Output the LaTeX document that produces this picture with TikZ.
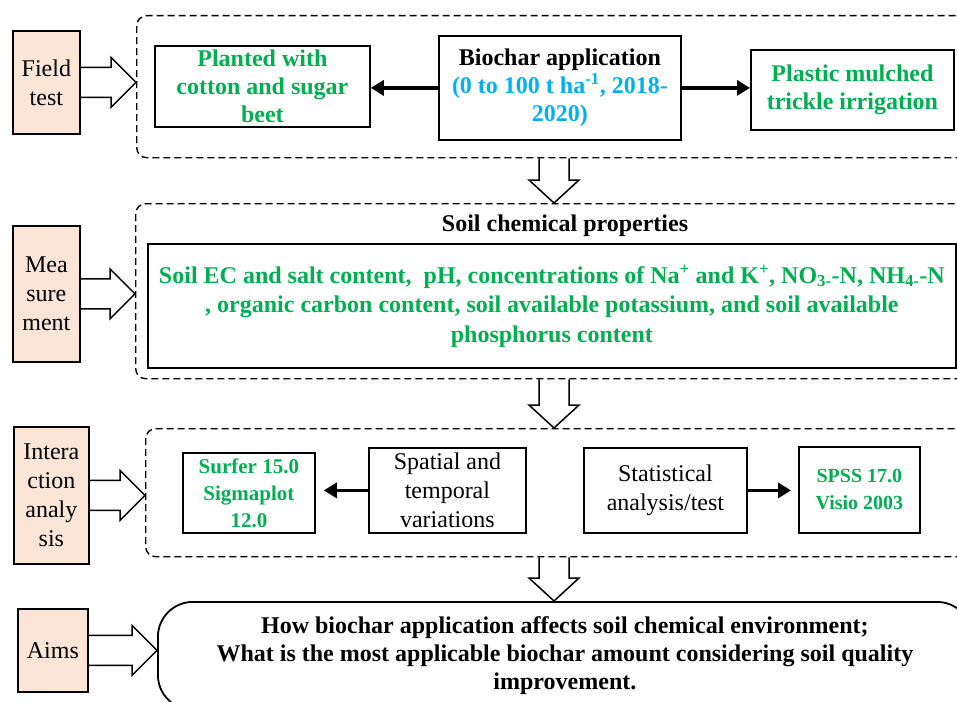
\documentclass[tikz,border=0pt]{standalone}
\usepackage{fontspec}
\setmainfont{Liberation Serif}
\usepackage{xcolor}
\usetikzlibrary{arrows.meta,positioning,calc}
\definecolor{leafgreen}{HTML}{00B050}
\definecolor{skyblue}{HTML}{00B0F0}
\definecolor{peach}{HTML}{FBE5D6}

\begin{document}
\begin{tikzpicture}[x=1pt,y=1pt,
	stage/.style={draw,line width=1.8pt,fill=peach,inner sep=0pt,anchor=north west,align=center,font=\fontsize{24}{29}\selectfont},
	frame/.style={draw,dash pattern=on 7pt off 4pt,line width=1.4pt,rounded corners=10pt,inner sep=0pt,anchor=north west},
	box/.style={draw,line width=1.8pt,inner sep=0pt,anchor=north west,align=center,font=\fontsize{24}{29}\selectfont},
	boldbox/.style={box,text=leafgreen,font=\fontsize{24}{28}\selectfont\bfseries},
	hollow/.style={line width=1.5pt,line join=miter},
	link/.style={line width=3.4pt,-{Triangle[length=13pt,width=15pt]}}]
		\useasboundingbox (0,0) rectangle (957,-701);
		\clip (0,0) rectangle (957,-701);
		% stages
		\node[stage,minimum width=67,minimum height=103] (field) at (12,-30) {Field\\test};
		\node[stage,minimum width=67,minimum height=136] (meas) at (12,-225) {Mea\\sure\\ment};
		\node[stage,minimum width=75,minimum height=137] (inter) at (13,-426) {Intera\\ction\\analy\\sis};
		\node[stage,minimum width=70,minimum height=83] (aims) at (17,-608) {Aims};
		% dashed frames
		\node[frame,minimum width=840,minimum height=142] (frame1) at (136,-15) {};
		\node[frame,minimum width=840,minimum height=175] (frame2) at (135,-203) {};
		\node[frame,minimum width=830,minimum height=128] (frame3) at (145,-428) {};
		% field test
		\node[boldbox,minimum width=215,minimum height=81] (plant) at (154,-45) {Planted with\\cotton and sugar\\beet};
		\node[boldbox,text=skyblue,minimum width=242,minimum height=104] (biochar) at (438,-35)
			{\textcolor{black}{Biochar application}\\(0 to 100 t ha\textsuperscript{-1}, 2018-\\2020)};
		\node[boldbox,minimum width=203,minimum height=80] (plastic) at (750,-49) {Plastic mulched\\trickle irrigation};
		% measurement
		\node[font=\fontsize{24}{29}\selectfont\bfseries] (soilhead) at (565,-226) {Soil chemical properties};
		\node[boldbox,minimum width=808,minimum height=124,font=\fontsize{24}{29.5}\selectfont\bfseries] (props) at (147,-243)
			{Soil EC and salt content,~ pH, concentrations of Na\textsuperscript{+} and K\textsuperscript{+}, NO\textsubscript{3-}-N, NH\textsubscript{4-}-N\\
			, organic carbon content, soil available potassium, and soil available\\phosphorus content};
		% interaction analysis
		\node[boldbox,minimum width=132,minimum height=80,font=\fontsize{21}{27}\selectfont\bfseries] (surfer) at (182,-452) {Surfer 15.0\\Sigmaplot\\12.0};
		\node[box,minimum width=157,minimum height=85] (spatial) at (368,-447) {Spatial and\\temporal\\variations};
		\node[box,minimum width=163,minimum height=85] (stat) at (583,-447) {Statistical\\analysis/test};
		\node[boldbox,minimum width=121,minimum height=86,font=\fontsize{20}{27}\selectfont\bfseries] (spss) at (798,-446) {SPSS 17.0\\Visio 2003};
		% aims
		\node[draw,line width=1.8pt,rounded corners=35pt,inner sep=0pt,anchor=north west,align=center,
			minimum width=814,minimum height=108,font=\fontsize{24}{28}\selectfont\bfseries] (goal) at (157,-601)
			{How biochar application affects soil chemical environment;\\What is the most applicable biochar amount considering soil quality\\improvement.};
		% arrows
		\draw[link] (biochar.west) -- (biochar.west -| plant.east);
		\draw[link] (biochar.east) -- (biochar.east -| plastic.west);
		\draw[link,shorten >=8pt] (spatial.west) -- (spatial.west -| surfer.east);
		\draw[link,shorten >=7pt] (stat.east) -- (stat.east -| spss.west);
		\foreach \a/\b in {field/frame1,meas/frame2,inter/frame3,aims/goal}
			\draw[hollow] (\a.east) ++(0,15) -- ($(\a.east -| \b.west)+(-25,15)$) -- ++(0,10) -- (\a.east -| \b.west)
				-- ++(-25,-25) -- ++(0,10) -- ($(\a.east)+(0,-15)$);
		\coordinate (spine) at (554,0);
		\foreach \a/\b in {frame1/frame2,frame2/frame3,frame3/goal}
			\draw[hollow] ($(spine |- \a.south)+(-15,0)$) -- ($(spine |- \b.north)+(-15,23)$) -- ++(-10,0) -- (spine |- \b.north)
				-- ++(25,23) -- ++(-10,0) -- ($(spine |- \a.south)+(15,0)$);
\end{tikzpicture}
\end{document}
